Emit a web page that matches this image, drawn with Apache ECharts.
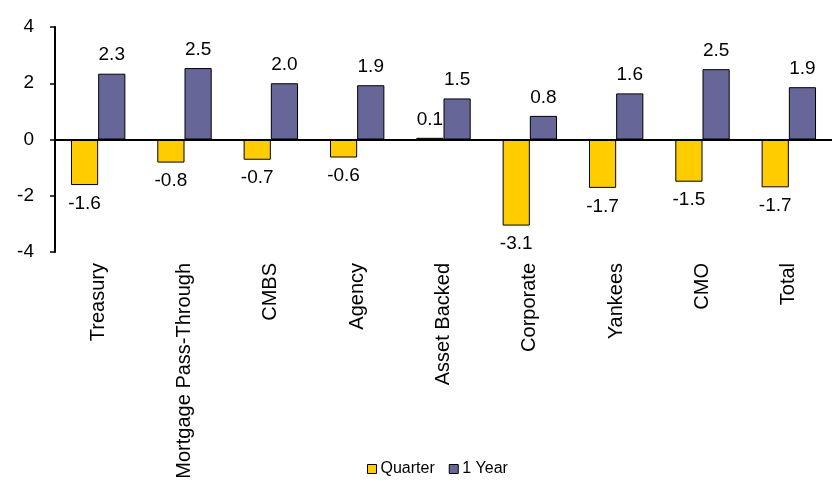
<!DOCTYPE html>
<html><head><meta charset="utf-8">
<script src="https://cdn.jsdelivr.net/npm/echarts@6/dist/echarts.min.js"></script>
<style>html,body{margin:0;padding:0;background:#fff}#c{width:834px;height:483px}</style>
</head><body><div id="c"></div>
<script>
const categories = ["Treasury","Mortgage Pass-Through","CMBS","Agency","Asset Backed","Corporate","Yankees","CMO","Total"];
const quarter = [-1.62,-0.82,-0.72,-0.64,0.06,-3.06,-1.72,-1.5,-1.7];
const oneYear = [2.34,2.54,2.0,1.93,1.46,0.84,1.64,2.5,1.86];
const yTicks = [-4,-2,0,2,4];

const font = 'Liberation Sans, Arial, sans-serif';
const chart = echarts.init(document.getElementById('c'));
const lbl = {show:true, position:'outside', color:'#000', fontSize:19, fontFamily:font, distance:9,
  formatter: p => p.value.toFixed(1)};
chart.setOption({
  animation:false,
  grid:{left:55,right:2,top:27,bottom:231,containLabel:false},
  legend:{top:456,left:362,itemWidth:9,itemHeight:9,itemGap:14,icon:'rect',
    textStyle:{fontSize:16,fontFamily:font,color:'#000',padding:[0,0,0,-1]},
    data:[{name:'Quarter',itemStyle:{borderColor:'#000',borderWidth:1}},{name:'1 Year',itemStyle:{borderColor:'#000',borderWidth:1}}]},
  xAxis:{type:'category',data:categories,
    axisLine:{show:false,onZero:false},axisTick:{show:false},
    axisLabel:{rotate:90,fontSize:20,fontFamily:font,color:'#000',margin:11,interval:0}},
  yAxis:{type:'value',min:yTicks[0],max:yTicks[yTicks.length-1],interval:2,
    splitLine:{show:false},
    axisLine:{show:true,lineStyle:{color:'#000',width:2}},
    axisTick:{show:true,length:5,lineStyle:{color:'#000',width:1.5}},
    axisLabel:{fontSize:19,fontFamily:font,color:'#000',margin:21}},
  series:[
    {name:'Quarter',type:'bar',data:quarter,barGap:'0%',barCategoryGap:'37%',
     itemStyle:{color:'#FFCC00',borderColor:'#000',borderWidth:1},label:lbl,
     markLine:{silent:true,symbol:'none',label:{show:false},
       lineStyle:{color:'#000',width:2,type:'solid'},data:[{yAxis:0}]}},
    {name:'1 Year',type:'bar',data:oneYear,
     itemStyle:{color:'#666699',borderColor:'#000',borderWidth:1},label:lbl}
  ]
});
</script></body></html>
